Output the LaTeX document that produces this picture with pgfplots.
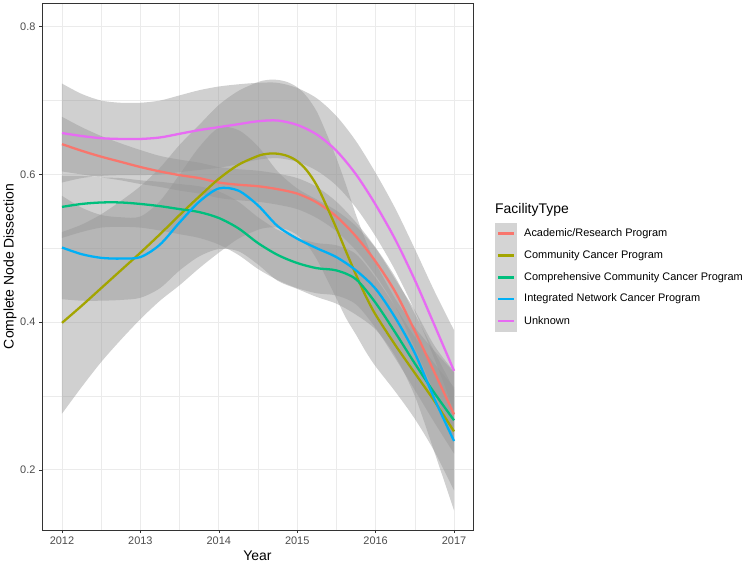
\documentclass[border=0pt]{standalone}
\usepackage{pgfplots}
\usepackage{pgfplotstable}
\pgfplotsset{compat=1.18}
\usepgfplotslibrary{fillbetween}
\usepackage{fontspec}
\setmainfont{Liberation Sans}
\definecolor{cA}{HTML}{F8766D}
\definecolor{cB}{HTML}{A3A500}
\definecolor{cC}{HTML}{00BF7D}
\definecolor{cD}{HTML}{00B0F6}
\definecolor{cE}{HTML}{E76BF3}
\definecolor{ribbon}{HTML}{969696}
\definecolor{keybg}{HTML}{D4D4D4}
\definecolor{gridc}{HTML}{EBEBEB}
\definecolor{tickc}{HTML}{333333}
\definecolor{labc}{HTML}{4D4D4D}

% Academic/Research Program
\pgfplotstableread{
x y lo hi
2012 0.641 0.604 0.678
2012.25 0.632 0.600 0.664
2012.5 0.624 0.596 0.652
2012.75 0.617 0.592 0.642
2013 0.610 0.587 0.633
2013.25 0.604 0.583 0.625
2013.5 0.599 0.578 0.620
2013.75 0.595 0.574 0.616
2014 0.589 0.568 0.610
2014.25 0.586 0.565 0.607
2014.5 0.584 0.563 0.605
2014.75 0.580 0.559 0.601
2015 0.574 0.553 0.595
2015.25 0.562 0.541 0.583
2015.5 0.543 0.523 0.563
2015.75 0.516 0.497 0.535
2016 0.482 0.463 0.501
2016.25 0.441 0.421 0.461
2016.5 0.388 0.365 0.411
2016.75 0.332 0.304 0.360
2017 0.275 0.241 0.309
}\tabA
% Community Cancer Program
\pgfplotstableread{
x y lo hi
2012 0.399 0.276 0.522
2012.25 0.422 0.312 0.532
2012.5 0.446 0.346 0.546
2012.75 0.470 0.376 0.564
2013 0.494 0.404 0.584
2013.25 0.519 0.429 0.609
2013.5 0.545 0.450 0.640
2013.75 0.570 0.473 0.667
2014 0.594 0.494 0.694
2014.25 0.613 0.513 0.713
2014.5 0.625 0.525 0.725
2014.625 0.628 0.528 0.728
2014.75 0.628 0.528 0.728
2014.875 0.625 0.525 0.725
2015 0.618 0.518 0.718
2015.125 0.605 0.505 0.705
2015.25 0.585 0.485 0.685
2015.375 0.557 0.459 0.655
2015.5 0.527 0.432 0.622
2015.625 0.495 0.405 0.585
2015.75 0.464 0.383 0.545
2015.875 0.435 0.360 0.510
2016 0.410 0.340 0.480
2016.25 0.369 0.306 0.432
2016.5 0.331 0.269 0.393
2016.75 0.293 0.225 0.361
2017 0.252 0.172 0.332
}\tabB
% Comprehensive Community Cancer Program
\pgfplotstableread{
x y lo hi
2012 0.556 0.514 0.598
2012.25 0.560 0.522 0.598
2012.5 0.562 0.528 0.596
2012.75 0.562 0.529 0.595
2013 0.560 0.528 0.592
2013.25 0.557 0.524 0.590
2013.5 0.553 0.519 0.587
2013.75 0.549 0.514 0.584
2014 0.541 0.505 0.577
2014.25 0.527 0.491 0.563
2014.5 0.507 0.472 0.542
2014.75 0.491 0.457 0.525
2015 0.480 0.446 0.514
2015.25 0.473 0.439 0.507
2015.5 0.470 0.436 0.504
2015.75 0.458 0.424 0.492
2016 0.426 0.392 0.460
2016.25 0.386 0.351 0.421
2016.5 0.344 0.308 0.380
2016.75 0.304 0.264 0.344
2017 0.267 0.222 0.312
}\tabC
% Integrated Network Cancer Program
\pgfplotstableread{
x y lo hi
2012 0.501 0.431 0.571
2012.25 0.492 0.429 0.555
2012.5 0.487 0.429 0.545
2012.75 0.486 0.430 0.542
2013 0.488 0.433 0.543
2013.25 0.505 0.446 0.564
2013.5 0.535 0.470 0.600
2013.75 0.563 0.489 0.637
2014 0.581 0.499 0.663
2014.25 0.578 0.496 0.660
2014.5 0.558 0.478 0.638
2014.75 0.530 0.456 0.604
2015 0.513 0.445 0.581
2015.25 0.500 0.434 0.566
2015.5 0.488 0.425 0.551
2015.75 0.470 0.410 0.530
2016 0.445 0.390 0.500
2016.25 0.406 0.354 0.458
2016.5 0.358 0.300 0.416
2016.75 0.296 0.224 0.368
2017 0.239 0.145 0.333
}\tabD
% Unknown
\pgfplotstableread{
x y lo hi
2012 0.656 0.589 0.723
2012.25 0.652 0.595 0.709
2012.5 0.649 0.598 0.700
2012.75 0.648 0.599 0.697
2013 0.648 0.599 0.697
2013.25 0.650 0.600 0.700
2013.5 0.655 0.603 0.707
2013.75 0.660 0.606 0.714
2014 0.664 0.609 0.719
2014.25 0.668 0.614 0.722
2014.5 0.672 0.620 0.724
2014.75 0.673 0.622 0.724
2015 0.667 0.617 0.717
2015.25 0.654 0.605 0.703
2015.5 0.632 0.585 0.679
2015.75 0.600 0.555 0.645
2016 0.559 0.516 0.602
2016.25 0.512 0.470 0.554
2016.5 0.457 0.415 0.499
2016.75 0.396 0.350 0.442
2017 0.334 0.279 0.389
}\tabE

\begin{document}
\begin{tikzpicture}
% legend (drawn beside the axis, first)
\fill[keybg] (453bp,198.3bp) rectangle (475bp,307.3bp);
\fill[cA] (456bp,295.0bp) rectangle (472bp,297.6bp);
\fill[cB] (456bp,273.2bp) rectangle (472bp,275.8bp);
\fill[cC] (456bp,251.4bp) rectangle (472bp,254.0bp);
\fill[cD] (456bp,229.6bp) rectangle (472bp,232.2bp);
\fill[cE] (456bp,207.8bp) rectangle (472bp,210.4bp);
\node[anchor=west, inner sep=0pt, font=\fontsize{11}{13}\selectfont] at (482bp,296.4bp) {Academic/Research Program};
\node[anchor=west, inner sep=0pt, font=\fontsize{11}{13}\selectfont] at (482bp,274.6bp) {Community Cancer Program};
\node[anchor=west, inner sep=0pt, font=\fontsize{11}{13}\selectfont] at (482bp,252.8bp) {Comprehensive Community Cancer Program};
\node[anchor=west, inner sep=0pt, font=\fontsize{11}{13}\selectfont] at (482bp,231.0bp) {Integrated Network Cancer Program};
\node[anchor=west, inner sep=0pt, font=\fontsize{11}{13}\selectfont] at (482bp,209.2bp) {Unknown};
\node[anchor=base west, inner sep=0pt, font=\fontsize{14}{16}\selectfont] at (453bp,316.7bp) {FacilityType};
\begin{axis}[
  at={(0bp,0bp)}, anchor=south west,
  scale only axis,
  width=431bp, height=527bp,
  xmin=2011.745, xmax=2017.242,
  ymin=0.1185, ymax=0.8321,
  xtick={2012,2013,2014,2015,2016,2017},
  ytick={0.2,0.4,0.6,0.8},
  minor x tick num=1,
  minor y tick num=1,
  grid=both,
  major grid style={gridc, line width=0.9pt},
  minor grid style={gridc, line width=0.5pt},
  axis line style={tickc, line width=0.6pt},
  tick pos=left,
  tick align=outside,
  major tick length=3bp,
  minor tick length=0pt,
  tick style={tickc, line width=0.6pt},
  /pgf/number format/assume math mode=true,
  xticklabel style={/pgf/number format/1000 sep={}, font=\fontsize{11}{13}\selectfont, text=labc},
  yticklabel style={/pgf/number format/fixed, /pgf/number format/precision=1, font=\fontsize{11}{13}\selectfont, text=labc},
  xlabel={Year},
  ylabel={Complete Node Dissection},
  xlabel style={font=\fontsize{14}{16}\selectfont, at={(axis description cs:0.5,-0.049)}, anchor=center},
  ylabel style={font=\fontsize{14}{16}\selectfont, at={(axis description cs:-0.074,0.5)}, anchor=center},
  every axis plot/.append style={forget plot},
]
\addplot[draw=none, name path=Ahi, smooth] table[x=x,y=hi]{\tabA};
\addplot[draw=none, name path=Alo, smooth] table[x=x,y=lo]{\tabA};
\addplot[ribbon, fill opacity=0.45, draw=none] fill between[of=Ahi and Alo];
\addplot[cA, line width=2.3pt, smooth] table[x=x,y=y]{\tabA};

\addplot[draw=none, name path=Bhi, smooth] table[x=x,y=hi]{\tabB};
\addplot[draw=none, name path=Blo, smooth] table[x=x,y=lo]{\tabB};
\addplot[ribbon, fill opacity=0.45, draw=none] fill between[of=Bhi and Blo];
\addplot[cB, line width=2.3pt, smooth] table[x=x,y=y]{\tabB};

\addplot[draw=none, name path=Chi, smooth] table[x=x,y=hi]{\tabC};
\addplot[draw=none, name path=Clo, smooth] table[x=x,y=lo]{\tabC};
\addplot[ribbon, fill opacity=0.45, draw=none] fill between[of=Chi and Clo];
\addplot[cC, line width=2.3pt, smooth] table[x=x,y=y]{\tabC};

\addplot[draw=none, name path=Dhi, smooth] table[x=x,y=hi]{\tabD};
\addplot[draw=none, name path=Dlo, smooth] table[x=x,y=lo]{\tabD};
\addplot[ribbon, fill opacity=0.45, draw=none] fill between[of=Dhi and Dlo];
\addplot[cD, line width=2.3pt, smooth] table[x=x,y=y]{\tabD};

\addplot[draw=none, name path=Ehi, smooth] table[x=x,y=hi]{\tabE};
\addplot[draw=none, name path=Elo, smooth] table[x=x,y=lo]{\tabE};
\addplot[ribbon, fill opacity=0.45, draw=none] fill between[of=Ehi and Elo];
\addplot[cE, line width=2.3pt, smooth] table[x=x,y=y]{\tabE};
\end{axis}
\pgfresetboundingbox
\path (-42bp,-34bp) rectangle (708bp,530bp);
\end{tikzpicture}
\end{document}
